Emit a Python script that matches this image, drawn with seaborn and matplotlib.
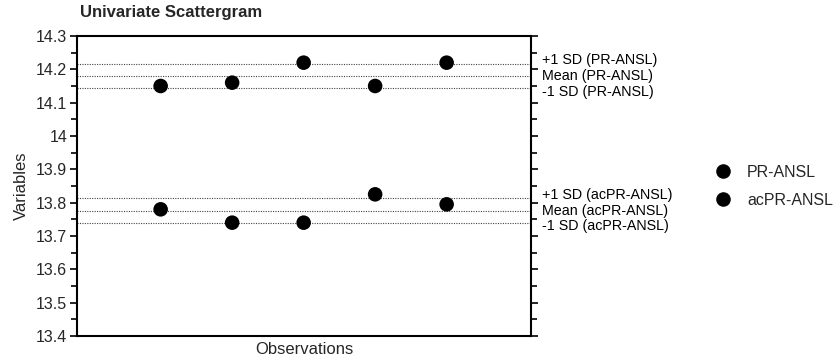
import numpy as np
import pandas as pd
import matplotlib
matplotlib.use("Agg")
import matplotlib.pyplot as plt
from matplotlib.ticker import MultipleLocator, FuncFormatter
import seaborn as sns

# Observations and measured values for the two variables
observations = [1, 2, 3, 4, 5]
pr_ansl = [14.15, 14.16, 14.22, 14.15, 14.22]
acpr_ansl = [13.78, 13.74, 13.74, 13.825, 13.795]
series_names = ["PR-ANSL", "acPR-ANSL"]

sns.set_theme(style="white")
plt.rcParams["font.family"] = ["Liberation Sans", "DejaVu Sans"]

df = pd.DataFrame({
    "Observations": observations * 2,
    "Variables": pr_ansl + acpr_ansl,
    "series": [series_names[0]] * len(pr_ansl) + [series_names[1]] * len(acpr_ansl),
})

fig = plt.figure(figsize=(8.36, 3.62), dpi=100)
ax = fig.add_axes([77 / 836, 1 - 336 / 362, (531 - 77) / 836, 300 / 362])

# Mean and +/-1 SD reference lines, labelled to the right of the frame
for name, vals in zip(series_names, [pr_ansl, acpr_ansl]):
    arr = np.asarray(vals)
    m = arr.mean()
    sd = arr.std(ddof=1)
    levels = [(m + sd, f"+1 SD ({name})", 3.5),
              (m, f"Mean ({name})", 0.0),
              (m - sd, f"-1 SD ({name})", -3.5)]
    for y, lab, dy in levels:
        ax.axhline(y, color="#444444", lw=0.8, ls=(0, (1, 1.2)), zorder=1)
        ax.annotate(lab, xy=(1.0, y), xycoords=("axes fraction", "data"),
                    xytext=(11, dy), textcoords="offset pixels",
                    ha="left", va="center", fontsize=10.3, color="black",
                    annotation_clip=False)

sns.scatterplot(data=df, x="Observations", y="Variables", hue="series",
                palette=["black", "black"], s=110, edgecolor="black",
                linewidth=0, ax=ax, zorder=3)

ax.set_xlim(-0.17, 6.18)
ax.set_ylim(13.4, 14.3)
ax.yaxis.set_major_locator(MultipleLocator(0.1))
ax.yaxis.set_minor_locator(MultipleLocator(0.05))
ax.yaxis.set_major_formatter(FuncFormatter(lambda v, p: f"{v:g}"))
ax.set_xticks([])
ax.tick_params(axis="y", which="both", left=True, right=True, direction="out",
               color="black", width=1.2)
ax.tick_params(axis="y", which="major", length=5, labelsize=11.5, pad=2)
ax.tick_params(axis="y", which="minor", length=4)
for sp in ax.spines.values():
    sp.set_visible(True)
    sp.set_color("black")
    sp.set_linewidth(1.5)

ax.set_xlabel("Observations", fontsize=12, labelpad=4)
ax.set_ylabel("Variables", fontsize=12, labelpad=5)
fig.text(80 / 836, 1 - 13 / 362, "Univariate Scattergram", fontsize=12,
         fontweight="bold", ha="left", va="center")

leg = ax.legend(loc="upper left", bbox_to_anchor=(715 / 836, 1 - 165 / 362),
                bbox_transform=fig.transFigure, frameon=False, fontsize=11.5,
                borderpad=0, borderaxespad=0, handlelength=1.0,
                handletextpad=1.0, labelspacing=0.8, markerscale=1.0)

fig.savefig("out.png", dpi=100)
